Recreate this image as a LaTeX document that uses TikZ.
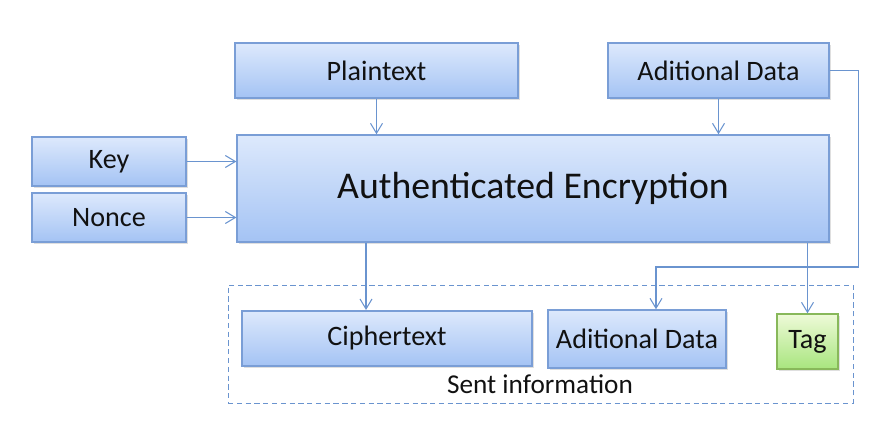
\documentclass[tikz,border=0pt]{standalone}
\usepackage{fontspec}
\setmainfont{Carlito}
\usetikzlibrary{arrows.meta,shadows}
\definecolor{boxtop}{HTML}{DDE9FC}
\definecolor{boxbot}{HTML}{A4C3F4}
\definecolor{boxline}{HTML}{7A9ED6}
\definecolor{arrline}{HTML}{6A94CF}
\definecolor{tagtop}{HTML}{EEFAD8}
\definecolor{tagbot}{HTML}{A8E57E}
\definecolor{tagline}{HTML}{88B85A}
\definecolor{txt}{HTML}{111111}
\tikzset{
  blk/.style={draw=boxline, line width=0.8pt, top color=boxtop, bottom color=boxbot, text=txt,
    font=\fontsize{16}{18}\selectfont, inner sep=0pt,
    drop shadow={shadow xshift=1pt, shadow yshift=-1.2pt, opacity=0.25}},
  tagblk/.style={blk, draw=tagline, top color=tagtop, bottom color=tagbot},
  flow/.style={draw=arrline, line width=0.6pt, -{Straight Barb[length=2mm,width=2.4mm]}}
}
\begin{document}
\begin{tikzpicture}[x=0.02cm, y=-0.02cm]
\useasboundingbox (0,0) rectangle (886,429);
% inputs
\node[blk, minimum width=5.66cm, minimum height=1.10cm] (plain) at (376.5,70.5) {Plaintext};
\node[blk, minimum width=4.42cm, minimum height=1.10cm] (ad) at (718.5,70.5) {Aditional Data};
\node[blk, minimum width=3.08cm, minimum height=0.98cm] (key) at (109,161.5) {Key};
\node[blk, minimum width=3.08cm, minimum height=0.98cm] (nonce) at (109,217.5) {Nonce};
\node[blk, minimum width=11.84cm, minimum height=2.14cm, font=\fontsize{21.5}{24}\selectfont] (ae) at (533,188.5) {Authenticated Encryption};
% sent information
\node[draw=arrline, dashed, dash pattern=on 3pt off 2pt, minimum width=12.5cm, minimum height=2.36cm] (sent) at (540.5,344) {};
\node[text=txt, font=\fontsize{15.5}{18}\selectfont] (sentlbl) at (540,384) {Sent information};
\node[blk, minimum width=5.80cm, minimum height=1.10cm] (ct) at (387,338.5) {Ciphertext};
\node[blk, minimum width=3.56cm, minimum height=1.16cm] (adout) at (637,339) {Aditional Data};
\node[tagblk, minimum width=1.22cm, minimum height=1.10cm] (tag) at (807.5,341.5) {Tag};
% arrows
\draw[flow] (plain.south) -- (plain.south |- ae.north);
\draw[flow] (ad.south) -- (ad.south |- ae.north);
\draw[flow] (key.east) -- (key.east -| ae.west);
\draw[flow] (nonce.east) -- (nonce.east -| ae.west);
\coordinate (ctin) at (366,310);
\draw[flow] (ctin |- ae.south) -- (ctin);
\draw[flow] (tag.north |- ae.south) -- (tag.north);
\coordinate (bend) at (656,267);
\draw[flow] (ad.east) -- ++(29,0) |- (bend) -- (bend |- adout.north);
\end{tikzpicture}
\end{document}
